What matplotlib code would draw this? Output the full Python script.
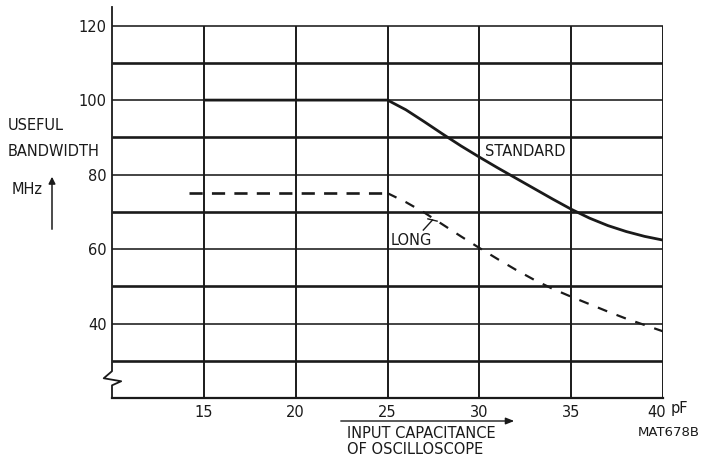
import matplotlib
matplotlib.use("Agg")
import matplotlib.pyplot as plt
from matplotlib.lines import Line2D
from matplotlib.patches import FancyArrowPatch
from matplotlib.transforms import ScaledTranslation

# ---- data ----
standard_x = [15, 25, 26, 27, 28, 29, 30, 31, 32, 33, 34, 35, 36, 37, 38, 39, 40]
standard_y = [100, 100, 97.4, 94.2, 90.9, 87.7, 84.7, 81.8, 79.0, 76.2, 73.4, 70.7, 68.3, 66.3, 64.7, 63.4, 62.4]
long_x = [14.2, 25, 26, 27, 28, 29, 30, 31, 32, 33, 34, 35, 36, 37, 38, 39, 40]
long_y = [75, 75, 72.6, 69.8, 66.6, 63.4, 60.3, 57.3, 54.4, 51.7, 49.3, 47.2, 45.2, 43.2, 41.3, 39.6, 37.9]

x_ticks = [15, 20, 25, 30, 35, 40]
x_ticklabels = ["15", "20", "25", "30", "35", "40"]
y_ticks = [40, 60, 80, 100, 120]
y_ticklabels = ["40", "60", "80", "100", "120"]
h_grid = [30, 40, 50, 60, 70, 80, 90, 100, 110, 120]
h_grid_thick = [30, 50, 70, 90, 110]

W, H = 714, 466
fig = plt.figure(figsize=(W / 100, H / 100), dpi=100)
ax = fig.add_axes([112 / W, 1 - 398 / H, (663 - 112) / W, (398 - 7) / H])
ax.set_xlim(10, 40)
ax.set_ylim(20, 125)

FS = 10.5
col = "#1a1a1a"

# grid
for y in h_grid:
    lw = 1.9 if y in h_grid_thick else 1.15
    ax.hlines(y, 10, 40, color=col, lw=lw, zorder=1)
for x in x_ticks:
    ax.vlines(x, 20, 120, color=col, lw=1.4, zorder=1)

# curves
ax.plot(standard_x, standard_y, color=col, lw=2.0, solid_capstyle="butt",
        solid_joinstyle="round", zorder=3)
ax.plot(long_x[:2], long_y[:2], color=col, lw=1.9, dashes=(5, 3.5), zorder=3)
ax.plot(long_x[1:], long_y[1:], color=col, lw=1.6, dashes=(4.5, 4.5), zorder=3)

# spines
for s in ["top", "right", "left"]:
    ax.spines[s].set_visible(False)
ax.spines["bottom"].set_linewidth(1.6)
ax.spines["bottom"].set_color(col)
# left axis with break symbol
ax.add_line(Line2D([10, 10, 9.55, 10.5, 10, 10], [125, 27.2, 25.3, 24.5, 23.4, 20],
                   color=col, lw=1.3, clip_on=False, zorder=4))

ax.set_xticks(x_ticks)
ax.set_xticklabels(x_ticklabels)
ax.set_yticks(y_ticks)
ax.set_yticklabels(y_ticklabels)
ax.tick_params(axis="both", length=0, labelsize=FS, colors=col)
ax.tick_params(axis="x", pad=5)
ax.tick_params(axis="y", pad=4)
# shift the last x tick label slightly left so the unit fits beside it
fig.canvas.draw()
last = ax.get_xticklabels()[-1]
last.set_transform(last.get_transform() + ScaledTranslation(-6 / 100, 0, fig.dpi_scale_trans))

# curve labels
ax.text(30.3, 86.3, "STANDARD", fontsize=FS, color=col, ha="left", va="center")
ax.text(25.15, 62.3, "LONG", fontsize=FS, color=col, ha="left", va="center")
ax.add_line(Line2D([26.95, 27.45], [65.1, 67.8], color=col, lw=1.0))
ax.add_line(Line2D([27.2, 27.7], [68.1, 67.5], color=col, lw=1.0))

def fx(px):
    return px / W

def fy(py):
    return 1 - py / H

# y axis label
fig.text(fx(8), fy(125), "USEFUL", fontsize=FS, color=col, ha="left", va="center")
fig.text(fx(8), fy(152), "BANDWIDTH", fontsize=FS, color=col, ha="left", va="center")
fig.text(fx(12), fy(190), "MHz", fontsize=FS, color=col, ha="left", va="center")
fig.add_artist(FancyArrowPatch((fx(52), fy(232)), (fx(52), fy(174)),
               transform=fig.transFigure, arrowstyle="-|>,head_length=4,head_width=2",
               color=col, lw=1.1))

# x axis label
fig.text(fx(671), fy(409), "pF", fontsize=FS, color=col, ha="left", va="center")
fig.add_artist(FancyArrowPatch((fx(338), fy(421)), (fx(517), fy(421)),
               transform=fig.transFigure, arrowstyle="-|>,head_length=5,head_width=2",
               color=col, lw=1.0))
fig.text(fx(347), fy(434), "INPUT CAPACITANCE", fontsize=FS, color=col, ha="left", va="center")
fig.text(fx(347), fy(450), "OF OSCILLOSCOPE", fontsize=FS, color=col, ha="left", va="center")
fig.text(fx(638), fy(432), "MAT678B", fontsize=9.5, color=col, ha="left", va="center")

fig.savefig("out.png", dpi=100)
